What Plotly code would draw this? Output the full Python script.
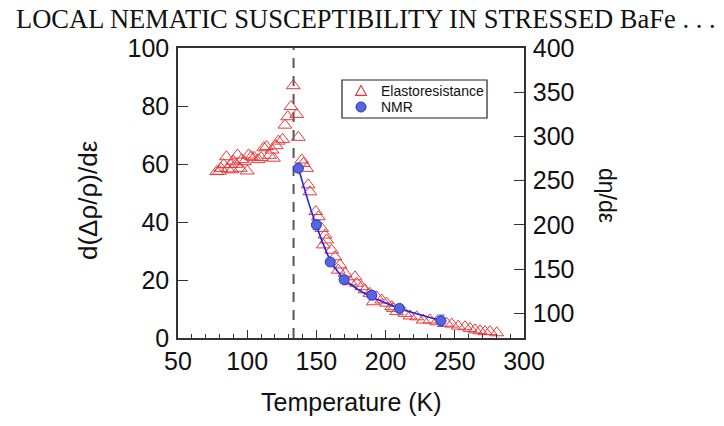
import plotly.graph_objects as go

# Elastoresistance (left axis)
er_T = [78, 80, 81, 83, 85, 86, 88, 89, 90, 92, 93, 95, 96, 98, 100, 101, 103, 105, 108, 110,
        112, 114, 116, 118, 119, 121, 122.5, 125.6, 127.3, 129.3, 131.6, 133.3, 135.8, 136.9, 139.4,
        140.5, 143, 144.1, 145.3, 149.5, 151.4, 153.8, 155, 156.2, 157.4, 161, 163.4, 165.8, 167,
        170.7, 174.3, 177.9, 179.1, 182.7, 185.1, 188.7, 191.1, 193.6, 197.2, 200.8, 204.4, 205.6,
        208, 214, 217.6, 222.5, 227.2, 232, 236.9, 244.1, 247.8, 252.5, 257.4, 261, 264.6, 268.2,
        271.8, 275.4, 280.3]
er_val = [57.4, 57.5, 58.5, 59.8, 62.5, 58.3, 59.8, 58.0, 61.0, 59.9, 63.1, 58.5, 61.5, 60.8, 57.6,
          63.1, 62.5, 62.3, 61.5, 62.2, 65.6, 66.0, 63.0, 64.8, 62.0, 66.3, 67.9, 68.5, 73.4, 76.3,
          79.8, 87.0, 77.1, 69.2, 61.4, 60.2, 58.5, 52.8, 50.4, 43.6, 41.8, 37.8, 32.1, 35.5, 33.8,
          30.3, 28.0, 23.4, 25.2, 22.3, 19.4, 21.1, 18.9, 17.7, 16.6, 15.4, 12.5, 14.2, 13.1, 12.0,
          10.8, 10.2, 9.1, 8.5, 7.6, 7.3, 6.2, 6.2, 5.6, 5.1, 4.8, 4.1, 3.9, 3.3, 2.8, 2.5, 2.2,
          2.2, 1.8]

# NMR (right axis)
nmr_T = [137, 150, 160, 170, 190, 210, 240]
nmr_val = [264, 200, 158, 138, 120.5, 105.5, 91.5]
nmr_err = [2, 5, 3, 3, 4, 3, 6.5]

# Fit curve (right axis)
fit_T = [137, 140, 145, 150, 155, 160, 165, 170, 180, 190, 200, 210, 220, 230, 240]
fit_val = [264, 248, 222, 199, 178, 160, 148, 138.5, 127, 118.5, 111.5, 105.5, 100.5, 96, 92]

Ts = 133.5

x_ticks = [50, 100, 150, 200, 250, 300]
y_ticks = [0, 20, 40, 60, 80, 100]
y2_ticks = [100, 150, 200, 250, 300, 350, 400]

legend_labels = ["Elastoresistance", "NMR"]

SANS = "Liberation Sans, Arial, sans-serif"
SERIF = "Liberation Serif, Times New Roman, serif"
AX = "#333333"
RED = "#e8383a"
BLUE_FILL = "#5566e0"
BLUE_EDGE = "#2a36c0"

# plot area in pixels (for placing texts)
L, R, T, B = 178, 524, 48, 338


def px(xp):
    return (xp - L) / (R - L)


def py(yp):
    return (B - yp) / (B - T)


fig = go.Figure()
fig.add_trace(go.Scatter(
    x=er_T, y=er_val, mode="markers", name=legend_labels[0], showlegend=False,
    marker=dict(symbol="triangle-up-open", size=12, color=RED, line=dict(width=1)),
))
fig.add_trace(go.Scatter(
    x=fit_T, y=fit_val, mode="lines", yaxis="y2", showlegend=False,
    line=dict(color="#1a22e8", width=1.6, shape="spline"),
))
fig.add_trace(go.Scatter(
    x=nmr_T, y=nmr_val, mode="markers", name=legend_labels[1], yaxis="y2", showlegend=False,
    marker=dict(symbol="circle", size=10, color=BLUE_FILL, line=dict(color=BLUE_EDGE, width=1)),
    error_y=dict(type="data", array=nmr_err, color=BLUE_FILL, thickness=1, width=4),
))

fig.add_shape(type="line", xref="x", yref="paper", x0=Ts, x1=Ts, y0=0, y1=1,
              line=dict(color="#555555", width=2, dash="10px,8px"), layer="below")

# legend box (drawn by hand to match the compact spacing)
fig.add_shape(type="rect", xref="paper", yref="paper", x0=px(342), x1=px(487),
              y0=py(118), y1=py(80), line=dict(color="#222222", width=1.2),
              fillcolor="white", layer="above")
tri_cx, tri_cy, h = 361, 91, 5.5
fig.add_shape(type="path", xref="paper", yref="paper",
              path=f"M {px(tri_cx - h)} {py(tri_cy + h * 0.8)} L {px(tri_cx + h)} {py(tri_cy + h * 0.8)} "
                   f"L {px(tri_cx)} {py(tri_cy - h)} Z",
              line=dict(color=RED, width=1.1), layer="above")
fig.add_shape(type="circle", xref="paper", yref="paper", x0=px(356), x1=px(366),
              y0=py(112), y1=py(102), fillcolor=BLUE_FILL, line=dict(color=BLUE_EDGE, width=1),
              layer="above")
for lab, yc in zip(legend_labels, [91, 107]):
    fig.add_annotation(text=lab, xref="paper", yref="paper", x=px(379), y=py(yc),
                       xanchor="left", yanchor="middle", showarrow=False,
                       font=dict(size=14, family=SANS, color="#111111"))

fig.update_layout(
    width=724, height=426,
    margin=dict(l=L, r=724 - R, t=T, b=426 - B),
    paper_bgcolor="white", plot_bgcolor="white",
    font=dict(family=SANS, color="#111111", size=25),
    showlegend=False,
    xaxis=dict(range=[50, 300], tickvals=x_ticks, ticks="inside", ticklen=8, tickwidth=1.3,
               tickcolor=AX, showline=True, linecolor=AX, linewidth=1.5, mirror=True,
               showgrid=False, zeroline=False, tickfont=dict(size=25),
               minor=dict(dtick=10, ticks="inside", ticklen=4, tickcolor=AX, showgrid=False)),
    yaxis=dict(range=[0, 100], tickvals=y_ticks, ticks="inside", ticklen=10, tickwidth=1.3,
               tickcolor=AX, showline=True, linecolor=AX, linewidth=1.5,
               showgrid=False, zeroline=False, tickfont=dict(size=25), ticklabelstandoff=2),
    yaxis2=dict(range=[72, 400], tickvals=y2_ticks, overlaying="y", side="right",
                ticks="inside", ticklen=10, tickwidth=1.3, tickcolor=AX, showline=True,
                linecolor=AX, linewidth=1.5, showgrid=False, zeroline=False,
                tickfont=dict(size=25), ticklabelstandoff=2),
)

fig.add_annotation(text="LOCAL NEMATIC SUSCEPTIBILITY IN STRESSED BaFe . . .",
                   xref="paper", yref="paper", x=px(14), y=py(19),
                   xanchor="left", yanchor="middle", showarrow=False,
                   font=dict(family=SERIF, size=26.5, color="#111111"))
fig.add_annotation(text="Temperature (K)", xref="paper", yref="paper",
                   x=0.5, y=py(402), xanchor="center", yanchor="middle",
                   showarrow=False, font=dict(size=25))
fig.add_annotation(text="d(Δρ/ρ)/dε", xref="paper", yref="paper",
                   x=px(88), y=py(200), xanchor="center", yanchor="middle",
                   textangle=-90, showarrow=False, font=dict(size=26))
fig.add_annotation(text="dη/dε", xref="paper", yref="paper",
                   x=px(607), y=py(195), xanchor="center", yanchor="middle",
                   textangle=90, showarrow=False, font=dict(size=23))

fig.write_html("out.html")
